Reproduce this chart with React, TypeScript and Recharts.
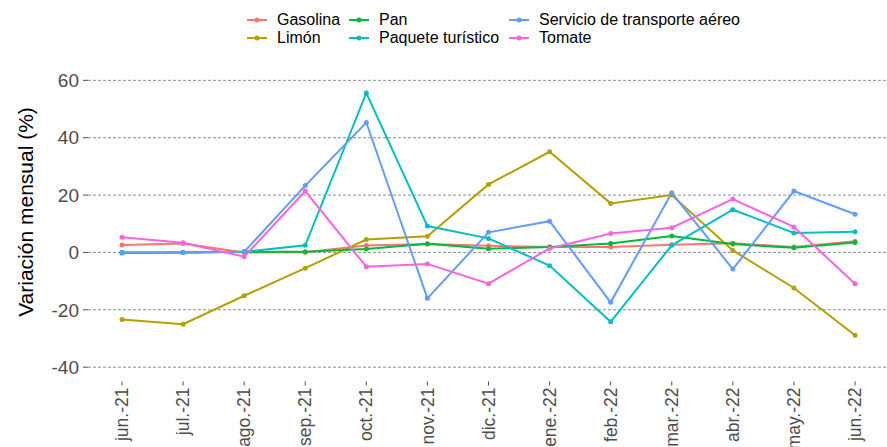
import React from "react";
import { CartesianGrid, Line, LineChart, XAxis, YAxis } from "recharts";

const months = [
  "jun.-21", "jul.-21", "ago.-21", "sep.-21", "oct.-21", "nov.-21", "dic.-21",
  "ene.-22", "feb.-22", "mar.-22", "abr.-22", "may.-22", "jun.-22",
];

const gasolina = [2.6, 3.1, 0, 0.1, 2.4, 2.9, 2.3, 1.9, 1.9, 2.7, 3.2, 1.9, 3.9];
const limon = [-23.4, -25, -15.1, -5.5, 4.5, 5.6, 23.7, 35.1, 17.1, 20.0, 0.7, -12.4, -28.9];
const pan = [-0.2, 0, 0.2, 0.2, 1.2, 3.0, 1.3, 1.9, 3.1, 5.7, 2.9, 1.6, 3.5];
const paquete = [0, 0, 0.2, 2.5, 55.6, 9.2, 4.9, -4.6, -24.2, 2.5, 14.9, 6.8, 7.2];
const servicio = [0, 0, 0.2, 23.3, 45.3, -16.0, 7.0, 10.9, -17.4, 20.8, -5.8, 21.4, 13.3];
const tomate = [5.3, 3.4, -1.5, 21.4, -5.0, -4.0, -10.9, 1.4, 6.6, 8.6, 18.6, 8.9, -10.9];

const yTicks = [-40, -20, 0, 20, 40, 60];

const series = [
  { key: "gasolina", name: "Gasolina", values: gasolina, color: "#F8766D" },
  { key: "limon", name: "Limón", values: limon, color: "#B79F00" },
  { key: "pan", name: "Pan", values: pan, color: "#00BA38" },
  { key: "paquete", name: "Paquete turístico", values: paquete, color: "#00BFC4" },
  { key: "servicio", name: "Servicio de transporte aéreo", values: servicio, color: "#619CFF" },
  { key: "tomate", name: "Tomate", values: tomate, color: "#F564E3" },
];

const data = months.map((m, i) => {
  const row: Record<string, any> = { month: m };
  series.forEach((s) => (row[s.key] = s.values[i]));
  return row;
});

const font = "'Liberation Sans', Arial, sans-serif";

function MonthTick({ x, y, payload }: any) {
  return (
    <g transform={`translate(${x},${y})`}>
      <text
        transform="rotate(-90)"
        textAnchor="end"
        dy="0.35em"
        fill="#4d4d4d"
        fontSize={17.5}
        fontFamily={font}
      >
        {payload.value}
      </text>
    </g>
  );
}

function LegendBox() {
  // ggplot fills the legend column by column, two rows
  const cols = [series.slice(0, 2), series.slice(2, 4), series.slice(4, 6)];
  const widths = [102, 160, 240];
  return (
    <div
      style={{
        position: "absolute",
        left: 247,
        top: 11,
        display: "flex",
        fontFamily: font,
        fontSize: 16,
        color: "#000",
      }}
    >
      {cols.map((col, ci) => (
        <div key={ci} style={{ width: widths[ci] }}>
          {col.map((s) => (
            <div key={s.key} style={{ display: "flex", alignItems: "center", height: 18 }}>
              <svg width={20} height={18} style={{ marginRight: 10 }}>
                <line x1={0} x2={20} y1={9} y2={9} stroke={s.color} strokeWidth={2} />
                <circle cx={10} cy={9} r={2.5} fill={s.color} />
              </svg>
              <span style={{ whiteSpace: "nowrap" }}>{s.name}</span>
            </div>
          ))}
        </div>
      ))}
    </div>
  );
}

export default function App() {
  return (
    <div style={{ position: "absolute", left: 0, top: 0, width: 887, height: 447, background: "#fff" }}>
      <LineChart
        width={887}
        height={447}
        data={data}
        margin={{ top: 66, right: 0, bottom: 0, left: 0 }}
      >
        <CartesianGrid
          vertical={false}
          horizontalValues={yTicks}
          stroke="#8c8c8c"
          strokeDasharray="3 2"
        />
        <XAxis
          dataKey="month"
          height={65.5}
          padding={{ left: 34, right: 32 }}
          axisLine={false}
          tickLine={{ stroke: "#4d4d4d" }}
          tickSize={4}
          tickMargin={2}
          interval={0}
          tick={<MonthTick />}
        />
        <YAxis
          width={88}
          domain={[-45, 65]}
          ticks={yTicks}
          axisLine={false}
          tickLine={{ stroke: "#4d4d4d" }}
          tickSize={5}
          tickMargin={4}
          tick={{ fill: "#4d4d4d", fontSize: 19, fontFamily: font }}
          label={{
            content: () => (
              <text
                transform="translate(33,212) rotate(-90)"
                textAnchor="middle"
                fontSize={21}
                fontFamily={font}
                fill="#000"
              >
                Variación mensual (%)
              </text>
            ),
          }}
        />
        {series.map((s) => (
          <Line
            key={s.key}
            dataKey={s.key}
            name={s.name}
            type="linear"
            stroke={s.color}
            strokeWidth={2}
            dot={{ r: 2.5, fill: s.color, stroke: s.color, strokeWidth: 0 }}
            activeDot={false}
            isAnimationActive={false}
          />
        ))}
      </LineChart>
      <LegendBox />
    </div>
  );
}
